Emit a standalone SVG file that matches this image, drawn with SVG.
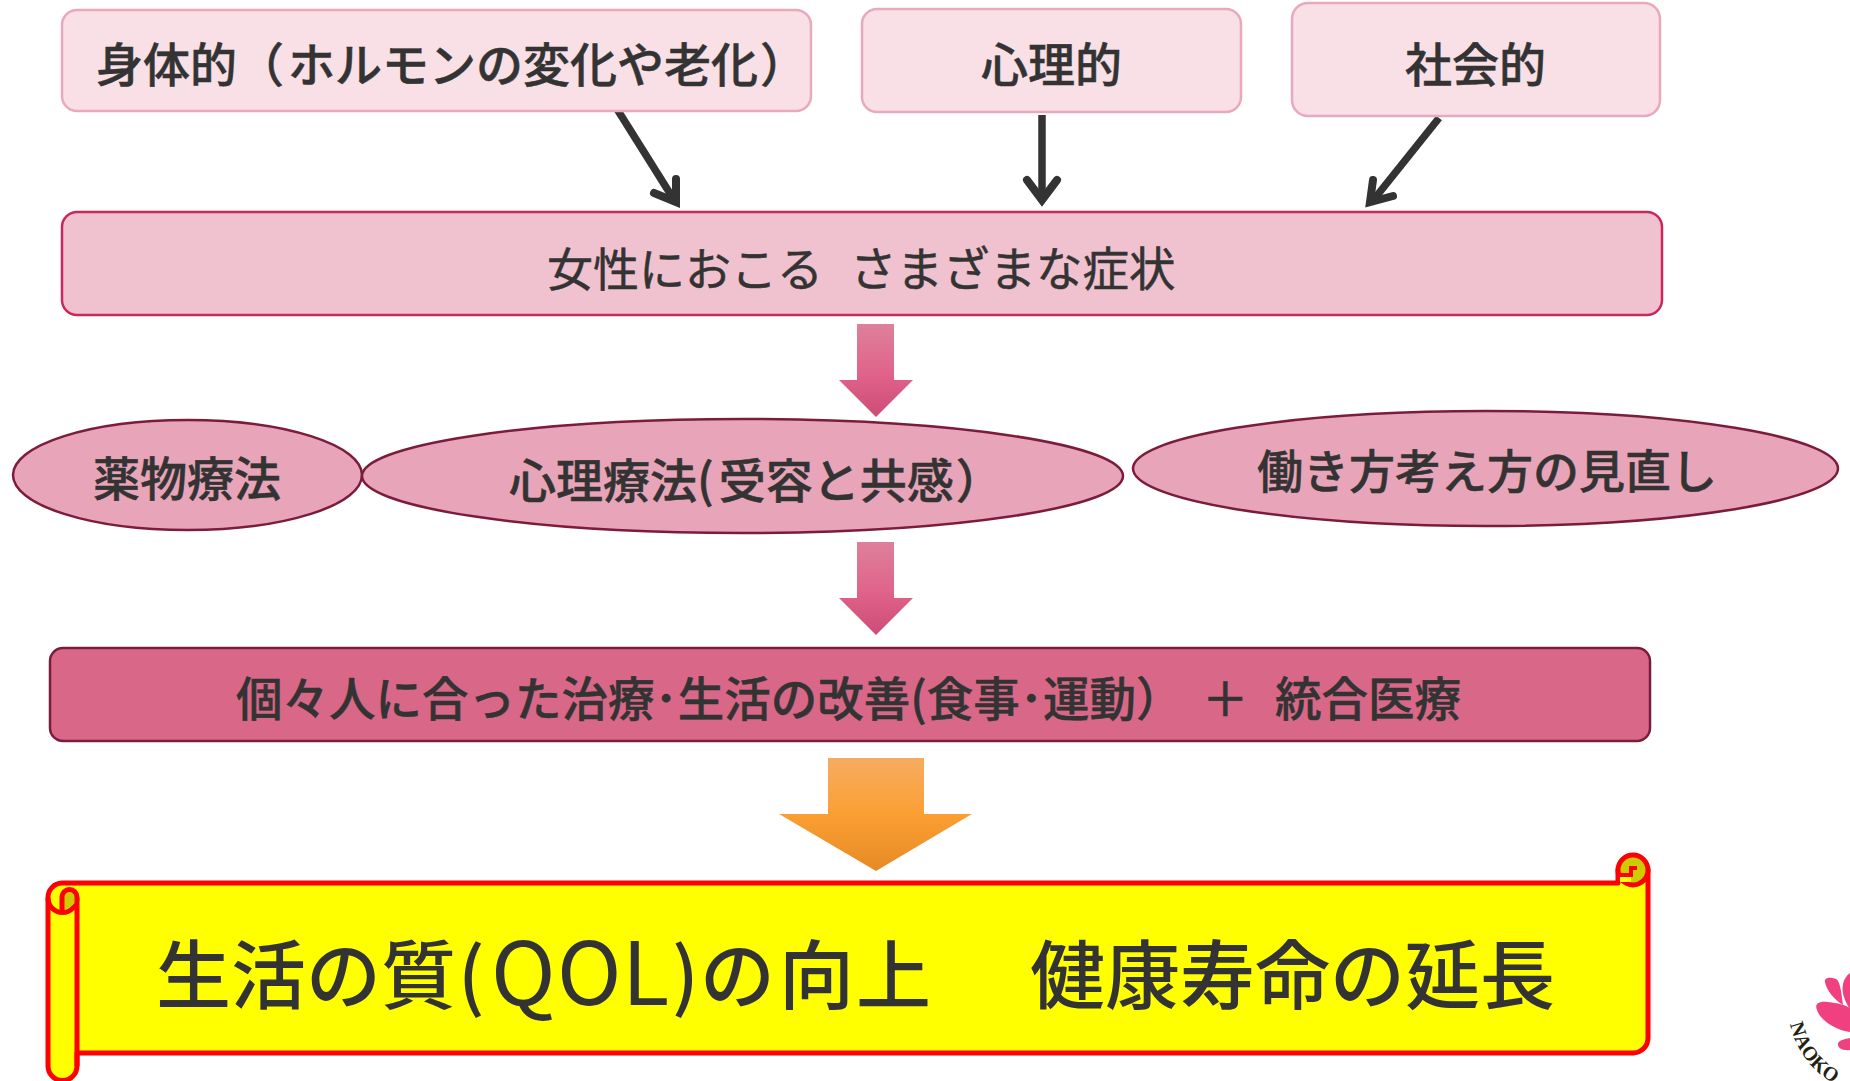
<svg xmlns="http://www.w3.org/2000/svg" width="1850" height="1081" viewBox="0 0 1850 1081">
<defs>
<linearGradient id="pk" x1="0" y1="0" x2="0" y2="1"><stop offset="0" stop-color="#de809c"/><stop offset="0.55" stop-color="#e0628a"/><stop offset="1" stop-color="#cc4c76"/></linearGradient>
<linearGradient id="or" x1="0" y1="0" x2="0" y2="1"><stop offset="0" stop-color="#f6ac60"/><stop offset="0.5" stop-color="#fb9f33"/><stop offset="1" stop-color="#e68b24"/></linearGradient>
</defs>
<style>
text{font-family:"Noto Sans CJK JP","Noto Sans",sans-serif;fill:#333;font-size:47px;font-weight:500;stroke:#333;stroke-width:.5}
.cause{fill:#f8e0e6;stroke:#e9a9bd;stroke-width:2.5}
.oval{fill:#e8a4b8;stroke:#7c1c3c;stroke-width:2.5}
.wire{fill:none;stroke:#333;stroke-width:7.500;stroke-linecap:butt}
.head{fill:none;stroke:#333;stroke-width:8;stroke-linecap:round;stroke-linejoin:miter;stroke-miterlimit:10}
.scroll{stroke:#f00;stroke-width:5;stroke-linejoin:round}
</style>
<rect width="1850" height="1081" fill="#fff"/>
<g id="connectors">
<path class="wire" d="M617 109L676 203"/><polyline class="head" points="676,179 676,202 654,193"/>
<path class="wire" d="M1042 115V200"/><polyline class="head" points="1027,180 1042,200 1057,180"/>
<path class="wire" d="M1439 118L1371 203"/><polyline class="head" points="1373,180 1370,202 1393,196"/>
<path id="arrow-a" fill="url(#pk)" d="M857 324H894V380H913L876 417L839 380H857Z"/>
<path id="arrow-b" fill="url(#pk)" d="M857 542H894V598H913L876 635L839 598H857Z"/>
<path id="arrow-c" fill="url(#or)" d="M828 758H924V814H972L876 871L779 814H828Z"/>
</g>
<g id="node-body"><rect class="cause" x="62" y="10" width="749" height="101" rx="15"/><text x="96" y="82">身体的（<tspan dx="4">ホルモンの変化や老化</tspan><tspan dx="2">）</tspan></text></g>
<g id="node-mind"><rect class="cause" x="862" y="9" width="379" height="103" rx="15"/><text x="981" y="82">心理的</text></g>
<g id="node-social"><rect class="cause" x="1292" y="3" width="368" height="113" rx="16"/><text x="1405" y="82">社会的</text></g>
<g id="node-symptoms"><rect x="62" y="212" width="1600" height="103" rx="15" fill="#f0c2d0" stroke="#c8285e" stroke-width="2.5"/><text x="547" y="286" style="font-weight:400;font-size:46px">女性におこる<tspan x="850" style="font-size:46.500px">さまざまな症状</tspan></text></g>
<g id="node-drug"><ellipse class="oval" cx="187.500" cy="475" rx="174.500" ry="55"/><text x="93" y="496">薬物療法</text></g>
<g id="node-psycho"><ellipse class="oval" cx="742.500" cy="476" rx="380.500" ry="57"/><text x="509" y="498">心理療法(<tspan dx="5">受容と共感</tspan><tspan dx="2">）</tspan></text></g>
<g id="node-work"><ellipse class="oval" cx="1485.500" cy="468.500" rx="352.500" ry="57.500"/><text x="1257" y="488" style="font-size:46px">働き方考え方の見直し</text></g>
<g id="node-care"><rect x="50" y="648" width="1600" height="93" rx="13" fill="#d96888" stroke="#7c1c3c" stroke-width="2.500"/><text x="236" y="716" style="font-size:46.500px">個々人に合った治療･生活の改善(食事･運動）<tspan x="1202">＋</tspan><tspan x="1275">統合医療</tspan></text></g>
<g id="node-goal">
<path class="scroll" fill="#ff0" d="M77 1053H1633A15 15 0 0 0 1648 1038V870H1618V883H62A14.500 14.500 0 0 0 48 898V1066A14.500 14.500 0 0 0 77 1066Z"/>
<path class="scroll" fill="none" d="M48 898A14.500 14.500 0 0 0 77 898"/>
<path fill="#cc0" d="M62 897A7.500 7.500 0 0 1 77 897C77 903 70 908 64 910Z"/>
<path class="scroll" fill="none" d="M62 910V897A7.500 7.500 0 0 1 77 897V1066"/>
<circle class="scroll" fill="#cc0" cx="1633" cy="870" r="15"/>
<path fill="#ff0" d="M1620 876H1631V882H1620Z"/>
<path fill="none" stroke="#f00" stroke-width="4" d="M1620 875H1631V868H1637"/>
<text x="156" y="1003" style="font-size:75px;stroke-width:0">生活の質<tspan x="458">(</tspan><tspan x="491" y="1005" style="font-size:87px;font-weight:400">Q</tspan><tspan x="557" y="1005" style="font-size:87px;font-weight:400">O</tspan><tspan x="622" y="1005" style="font-size:87px;font-weight:400">L</tspan><tspan x="672" y="1003">)</tspan><tspan x="700">の</tspan><tspan x="779">向</tspan><tspan x="856">上</tspan><tspan x="1030">健康寿命の延長</tspan></text>
</g>
<g id="logo">
<g fill="#f04080">
<path d="M1843 1005C1835 1000 1826 990 1825 982C1824 977 1831 977 1836 979C1840 981 1841 990 1843 1005Z"/>
<path d="M1850 973C1843 978 1840 988 1845 1000L1850 1010Z"/>
<path d="M1850 1008V1032C1835 1030 1820 1020 1817 1010C1814 1003 1820 1001 1828 1002C1838 1003 1845 1005 1850 1008Z"/>
<path d="M1850 1038V1050C1843 1051 1837 1048 1838 1043C1840 1040 1845 1039 1850 1038Z"/>
</g>
<path id="arc" fill="none" d="M1790 1024A90 90 0 0 0 1880 1095"/>
<text style="font-family:'Liberation Serif',serif;font-size:20px;font-weight:700;fill:#221;stroke:none"><textPath href="#arc">NAOKO</textPath></text>
</g>
</svg>
